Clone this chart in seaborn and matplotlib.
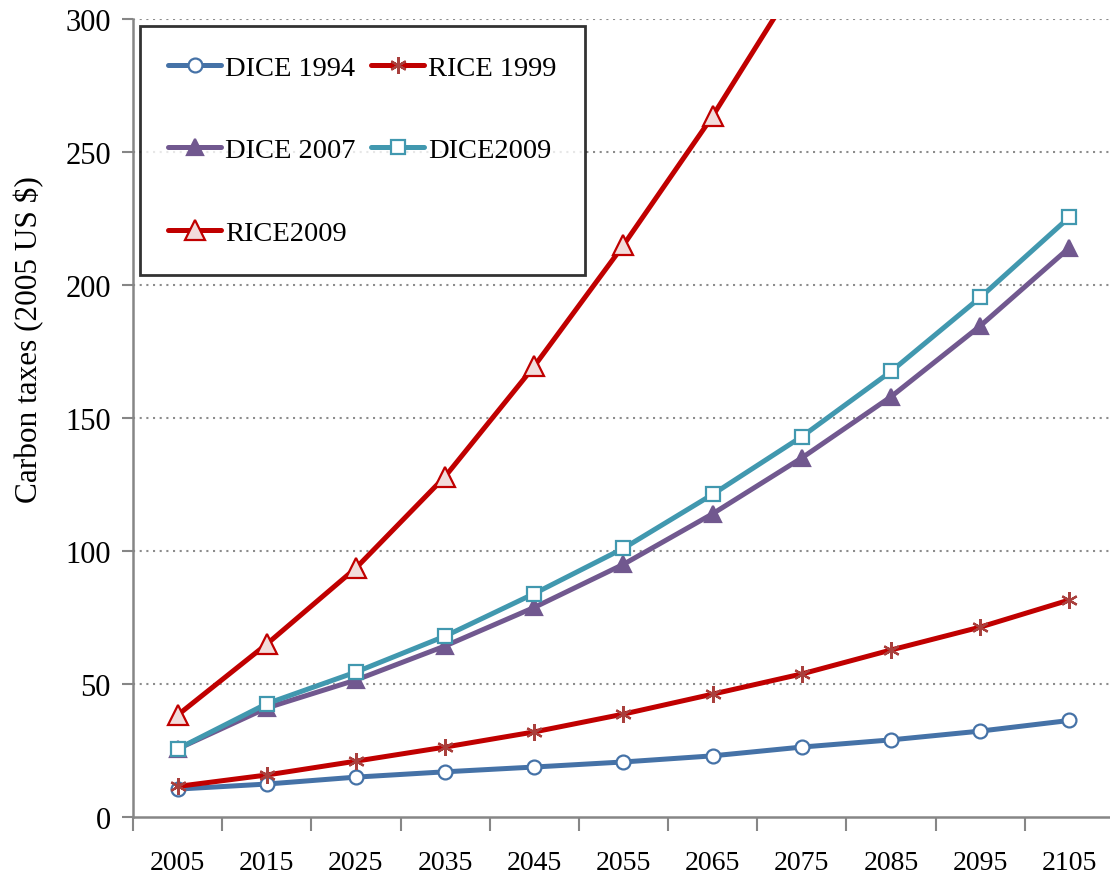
import numpy as np
import pandas as pd
import matplotlib
matplotlib.use('Agg')
import matplotlib.pyplot as plt
import seaborn as sns

# ── Data ─────────────────────────────────────────────────────
years = ['2005', '2015', '2025', '2035', '2045', '2055',
         '2065', '2075', '2085', '2095', '2105']
dice_1994 = [10.5, 12.4, 15.0, 17.0, 18.8, 20.7, 23.0, 26.3, 29.0, 32.3, 36.3]
rice_1999 = [11.5, 15.8, 21.0, 26.3, 32.0, 38.7, 46.2, 53.8, 62.8, 71.4, 81.6]
dice_2007 = [25.6, 41.0, 51.5, 64.3, 78.8, 95.0, 114.0, 135.0, 158.0, 184.6, 214.0]
dice_2009 = [25.6, 42.6, 54.5, 68.0, 84.0, 101.0, 121.3, 143.0, 167.5, 195.3, 225.5]
rice_2009 = [38.3, 65.0, 93.6, 128.0, 169.5, 215.0, 263.5, 317.0, 378.0, 445.0, 520.0]

sns.set_style('white')
plt.rcParams['font.family'] = ['Liberation Serif', 'DejaVu Serif']
plt.rcParams['text.color'] = 'black'
plt.rcParams['xtick.color'] = 'black'
plt.rcParams['ytick.color'] = 'black'
plt.rcParams['axes.labelcolor'] = 'black'

fig = plt.figure(figsize=(11.1, 8.78), dpi=100)
ax = fig.add_axes([0.1198, 0.0683, 0.8838, 0.909])

x = np.arange(len(years))
series = [
    # label, values, line colour, marker, marker size, face, edge
    ('DICE 1994', dice_1994, '#4572A7', 'o', 10, 'white', '#4572A7'),
    ('RICE 1999', rice_1999, '#C00000', (6, 2, 0), 12, '#A9403D', '#A9403D'),
    ('DICE 2007', dice_2007, '#71588F', '^', 11, '#71588F', '#71588F'),
    ('DICE2009', dice_2009, '#4198AF', 's', 10, 'white', '#4198AF'),
    ('RICE2009', rice_2009, '#C00000', '^', 14, '#F2DCDB', '#C00000'),
]

handles = {}
for label, vals, col, mk, ms, fc, ec in series:
    sns.lineplot(x=x, y=vals, ax=ax, color=col, linewidth=3.6,
                 marker=mk, markersize=ms, markerfacecolor=fc,
                 markeredgecolor=ec, markeredgewidth=1.6, label=label)
    handles[label] = ax.get_lines()[-1]

# ── Axes styling ─────────────────────────────────────────────
ax.set_xlim(-0.5, len(years) - 0.5)
ax.set_ylim(0, 300)
ax.set_yticks(np.arange(0, 301, 50))
ax.set_xticks(x)
ax.set_xticklabels(years)
ax.set_xticks(np.arange(-0.5, len(years), 1.0), minor=True)
ax.tick_params(axis='x', which='major', length=0, pad=24, labelsize=20)
ax.tick_params(axis='x', which='minor', length=10, width=1.5, color='#868686',
               direction='out', bottom=True)
ax.tick_params(axis='y', length=8, width=1.5, color='#868686', direction='out',
               left=True, labelsize=22, pad=8)

for y in np.arange(50, 301, 50):
    ax.axhline(y, color='#8c8c8c', linestyle=(0, (1, 2.2)), linewidth=1.5, zorder=0)

for s in ['top', 'right']:
    ax.spines[s].set_visible(False)
for s in ['left', 'bottom']:
    ax.spines[s].set_color('#868686')
    ax.spines[s].set_linewidth(1.8)

ax.set_xlabel('')
ax.set_ylabel('Carbon taxes (2005 US $)', fontsize=22.5)
ax.yaxis.set_label_coords(-0.090, 0.60)

order = ['DICE 1994', 'DICE 2007', 'RICE2009', 'RICE 1999', 'DICE2009']
leg = ax.legend([handles[k] for k in order], order, ncol=2, loc='upper left',
                bbox_to_anchor=(0.007, 0.991), borderaxespad=0, fontsize=20.5,
                frameon=True, fancybox=False, edgecolor='black',
                handlelength=1.85, handletextpad=0.15, labelspacing=2.0,
                columnspacing=0.55, borderpad=1.0)
leg.get_frame().set_linewidth(2.0)

fig.savefig('out.png', dpi=100)
